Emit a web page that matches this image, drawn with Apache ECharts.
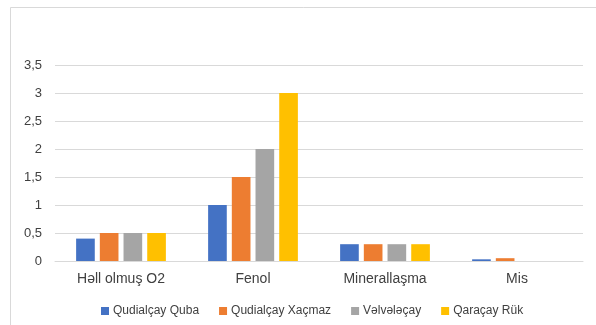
<!DOCTYPE html>
<html><head><meta charset="utf-8">
<script src="https://cdn.jsdelivr.net/npm/echarts@6/dist/echarts.min.js"></script>
<style>html,body{margin:0;padding:0;background:#fff}#c{width:596px;height:325px}</style>
</head><body><div id="c"></div>
<script>
var categories = ['Həll olmuş O2', 'Fenol', 'Minerallaşma', 'Mis'];
var seriesNames = ['Qudialçay Quba', 'Qudialçay Xaçmaz', 'Vəlvələçay', 'Qaraçay Rük'];
var quba = [0.4, 1, 0.3, 0.03];
var xacmaz = [0.5, 1.5, 0.3, 0.05];
var velveleçay = [0.5, 2, 0.3, 0];
var qaracay = [0.5, 3, 0.3, 0];
var yTicks = [0, 0.5, 1, 1.5, 2, 2.5, 3, 3.5];
var colors = ['#4472C4', '#ED7D31', '#A5A5A5', '#FFC000'];
var values = [quba, xacmaz, velveleçay, qaracay];

var chart = echarts.init(document.getElementById('c'), null, {renderer: 'canvas'});
var font = '"Liberation Sans", Arial, sans-serif';
chart.setOption({
  animation: false,
  textStyle: {fontFamily: font},
  graphic: [{
    type: 'rect', left: 10, top: 7, z: -1,
    shape: {width: 620, height: 340},
    style: {fill: '#fff', stroke: '#d9d9d9', lineWidth: 1}
  }],
  grid: {left: 55, right: 13, top: 65, bottom: 64},
  legend: {
    data: seriesNames, left: 96, top: 300, itemWidth: 8, itemHeight: 8, itemGap: 20,
    icon: 'rect',
    textStyle: {fontSize: 12, color: '#404040', fontFamily: font, padding: [0, 0, 0, -1]}
  },
  xAxis: {
    type: 'category', data: categories,
    axisLine: {lineStyle: {color: '#d9d9d9'}},
    axisTick: {show: false},
    axisLabel: {fontSize: 14, color: '#404040', margin: 11, fontFamily: font}
  },
  yAxis: {
    type: 'value', min: 0, max: 3.5, interval: 0.5,
    axisLine: {show: false}, axisTick: {show: false},
    splitLine: {lineStyle: {color: '#d9d9d9'}},
    axisLabel: {fontSize: 13, color: '#404040', margin: 13, fontFamily: font,
      formatter: function (v) { return String(v).replace('.', ','); }}
  },
  series: seriesNames.map(function (n, i) {
    return {
      name: n, type: 'bar', data: values[i],
      barGap: '27%', barCategoryGap: '32%',
      itemStyle: {color: colors[i]}
    };
  })
});
</script></body></html>
